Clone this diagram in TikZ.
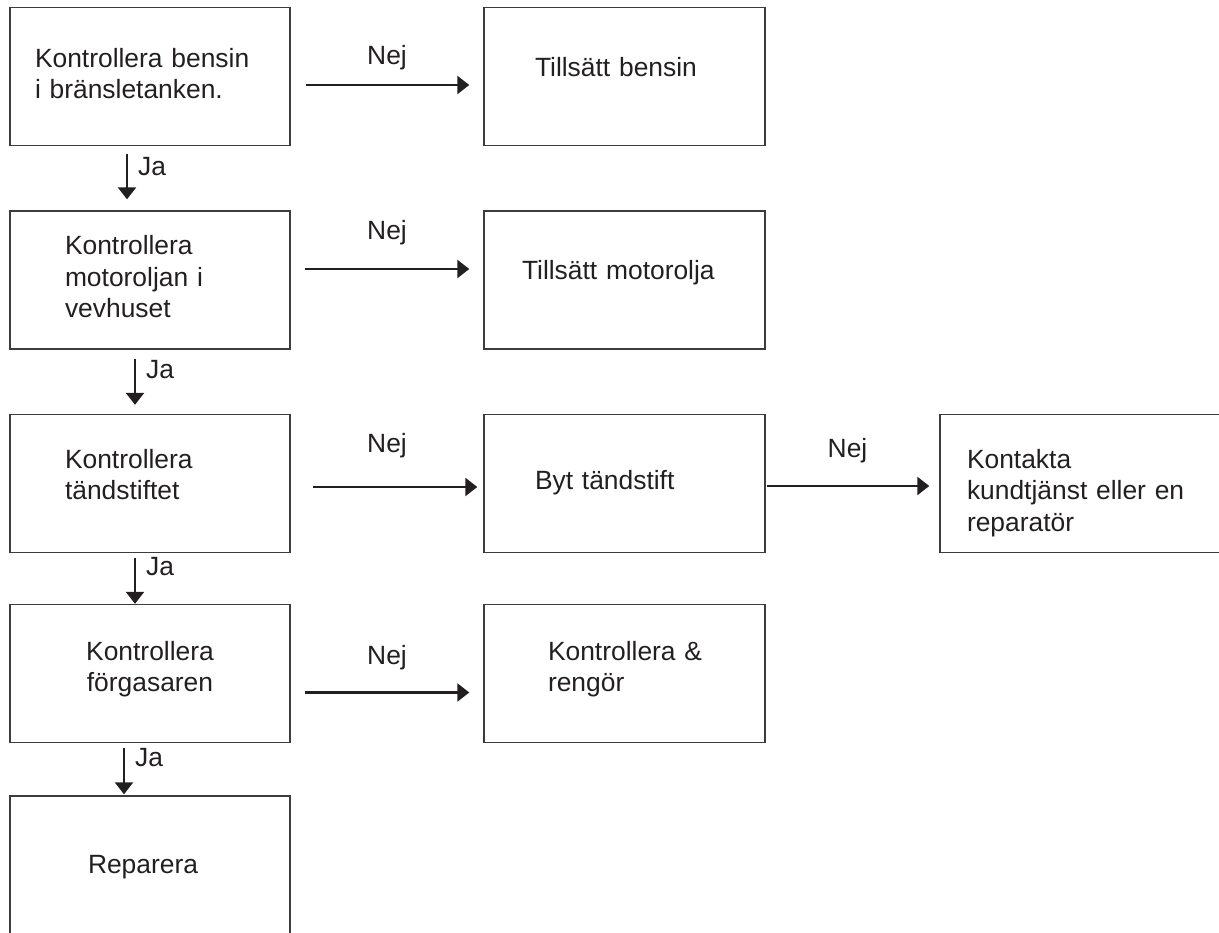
\documentclass[tikz,border=0pt]{standalone}
\usepackage{fontspec}
\setmainfont{Liberation Sans}
\usepackage{tikz}
\usetikzlibrary{arrows.meta,positioning}
\definecolor{ink}{HTML}{231F20}
\definecolor{frame}{HTML}{3C3C3C}
\tikzstyle{block} = [rectangle, draw=frame, line width=1.4pt, text=ink, align=left,
    minimum height=138pt, inner ysep=0pt, font=\fontsize{26.4}{31.5}\selectfont]
\tikzstyle{line} = [draw=ink, line width=2.4pt, -{Triangle[length=12pt,width=18pt]}]
\tikzstyle{nej} = [text=ink, inner sep=0pt, anchor=base, font=\fontsize{26.4}{31.5}\selectfont]
\tikzstyle{ja} = [text=ink, inner sep=0pt, anchor=base west, xshift=10pt, yshift=3pt,
    font=\fontsize{26.4}{31.5}\selectfont]
% first baseline above (lift) or below (sink) the box centre, given as twice the offset
\tikzstyle{lift} = [text height=0pt, text depth=#1]
\tikzstyle{sink} = [text height=#1, text depth=0pt]

\begin{document}
\begin{tikzpicture}[x=1pt, y=-1pt]
  \useasboundingbox (0,0) rectangle (1219,933);
  % checks
  \node [block, lift=18pt, inner xsep=25pt, text width=230pt] (bensin) at (150,76.5)
    {Kontrollera bensin\\i bränsletanken.};
  \node [block, lift=50pt, inner xsep=55pt, text width=170pt, below of=bensin, node distance=203.5pt] (olja)
    {Kontrollera\\motoroljan i\\vevhuset};
  \node [block, lift=31pt, inner xsep=55pt, text width=170pt, below of=olja, node distance=203.5pt] (stift)
    {Kontrollera\\tändstiftet};
  \node [block, lift=27pt, inner xsep=0pt, text width=280pt, align=center, below of=stift, node distance=190pt] (forgasare)
    {Kontrollera\\förgasaren};
  \node [block, sink=16pt, inner xsep=78pt, text width=124pt, below of=forgasare, node distance=191.5pt] (reparera)
    {Reparera};
  % actions
  \node [block, sink=1pt, inner xsep=51pt, text width=179pt, right of=bensin, node distance=474.5pt] (tillbensin)
    {Tillsätt bensin};
  \node [block, sink=0pt, inner xsep=38pt, text width=205pt, right of=olja, node distance=474.5pt] (tillolja)
    {Tillsätt motorolja};
  \node [block, sink=11pt, inner xsep=51pt, text width=179pt, right of=stift, node distance=474.5pt] (bytstift)
    {Byt tändstift};
  \node [block, lift=31pt, inner xsep=27pt, text width=236pt, right of=bytstift, node distance=460.5pt] (kontakta)
    {Kontakta\\kundtjänst eller en\\reparatör};
  \node [block, lift=27pt, inner xsep=64pt, text width=153pt, right of=forgasare, node distance=474.5pt] (rengor)
    {Kontrollera~\&\\rengör};
  % nej
  \path [line, shorten <=15pt, shorten >=14pt] ([yshift=-8.5pt]bensin.east) -- node[nej, yshift=20pt] {Nej} ([yshift=-8.5pt]tillbensin.west);
  \path [line, shorten <=14pt, shorten >=14pt] ([yshift=11pt]olja.east) -- node[nej, yshift=29pt] {Nej} ([yshift=11pt]tillolja.west);
  \path [line, shorten <=22pt, shorten >=6pt] ([yshift=-3.5pt]stift.east) -- node[nej, yshift=35pt] {Nej} ([yshift=-3.5pt]bytstift.west);
  \path [line, shorten <=1pt, shorten >=10pt] ([yshift=-2.5pt]bytstift.east) -- node[nej, yshift=29pt, xshift=-5pt] {Nej} ([yshift=-2.5pt]kontakta.west);
  \path [line, shorten <=14pt, shorten >=14pt] ([yshift=-19pt]forgasare.east) -- node[nej, yshift=28pt] {Nej} ([yshift=-19pt]rengor.west);
  % ja
  \path [line, shorten <=8pt, shorten >=11pt] ([xshift=-23pt]bensin.south) -- node[ja] {Ja} ([xshift=-23pt]olja.north);
  \path [line, shorten <=9pt, shorten >=9pt] ([xshift=-15pt]olja.south) -- node[ja] {Ja} ([xshift=-15pt]stift.north);
  \path [line, shorten <=5pt] ([xshift=-15pt]stift.south) -- node[ja] {Ja} ([xshift=-15pt]forgasare.north);
  \path [line, shorten <=5pt, shorten >=1pt] ([xshift=-26pt]forgasare.south) -- node[ja] {Ja} ([xshift=-26pt]reparera.north);
\end{tikzpicture}
\end{document}
